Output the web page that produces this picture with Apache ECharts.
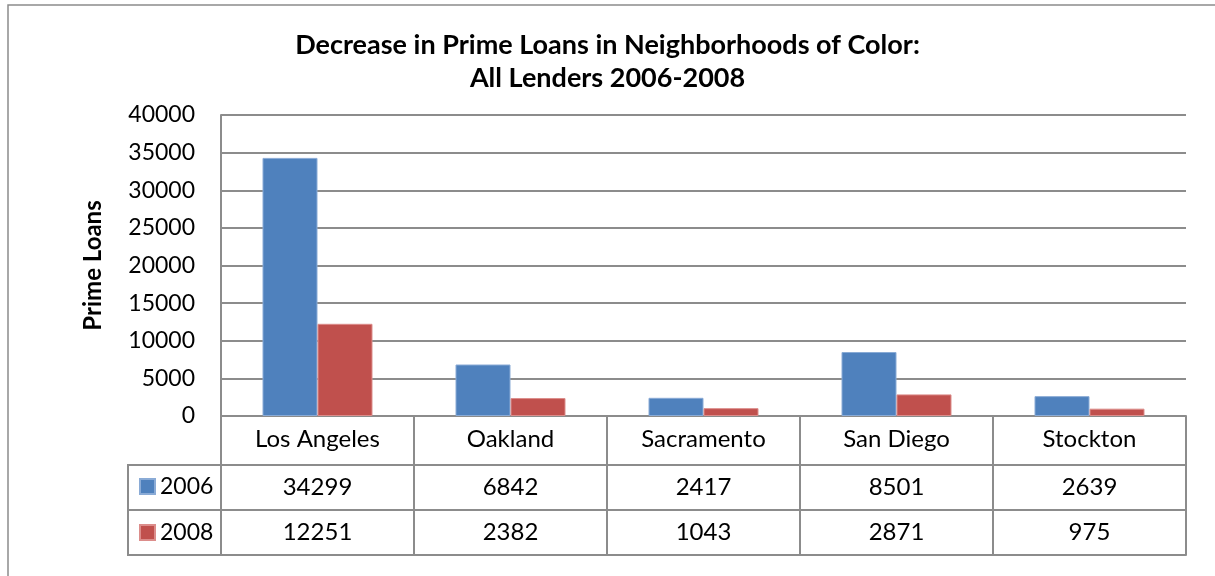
<!DOCTYPE html>
<html>
<head>
<meta charset="utf-8">
<script src="https://cdn.jsdelivr.net/npm/echarts@6/dist/echarts.min.js"></script>
<style>
    html, body { margin: 0; padding: 0; background: #fff; }
    #main { width: 1215px; height: 576px; }
</style>
</head>
<body>
<div id="main"></div>
<script>
var cities = ["Los Angeles", "Oakland", "Sacramento", "San Diego", "Stockton"];
var loans2006 = [34299, 6842, 2417, 8501, 2639];
var loans2008 = [12251, 2382, 1043, 2871, 975];
var yTicks = [0, 40000, 5000];//min, max, interval

var lineGray = "#8c8c8c";
var fontName = "Lato";

var chart = echarts.init(document.getElementById("main"));

// 表格行：每一行用一个带偏移的类目轴画出
function tableAxis (offset, values, tickLen, margin) {
    return {
        type: "category",
        data: cities,
        position: "bottom",
        offset: offset,
        axisLine: { show: true, lineStyle: { color: lineGray, width: 2 } },
        axisTick: { show: tickLen > 0, length: tickLen, lineStyle: { color: lineGray, width: 2 } },
        axisLabel: {
            show: !!values || offset === 0,
            margin: margin,
            color: "#000",
            fontFamily: fontName,
            fontSize: 24,
            formatter: function (v, i) {
                return values ? String(values[i]) : v;
            }
        },
        splitLine: { show: false }
    };
}

var option = {
    animation: false,
    title: {
        text: "Decrease in Prime Loans in Neighborhoods of Color:\nAll Lenders 2006-2008",
        left: "center",
        top: 29,
        padding: [0, 0, 0, 17],
        textStyle: {
            fontFamily: fontName,
            fontWeight: "bold",
            fontSize: 27,
            lineHeight: 33,
            color: "#000"
        }
    },
    legend: {
        orient: "vertical",
        left: 139,
        top: 475,
        padding: 0,
        itemWidth: 15,
        itemHeight: 15,
        itemGap: 23,
        icon: "rect",
        selectedMode: false,
        data: ["2006", "2008"],
        textStyle: { fontFamily: fontName, fontSize: 23, color: "#000" }
    },
    grid: {
        left: 221,
        right: 29,
        top: 115,
        bottom: 160,
        containLabel: false
    },
    xAxis: [
        tableAxis(0, null, 49, 11),
        tableAxis(49, loans2006, 45, 10),
        tableAxis(94, loans2008, 45, 10),
        tableAxis(139, null, 0, 0)
    ],
    yAxis: {
        type: "value",
        min: yTicks[0],
        max: yTicks[1],
        interval: yTicks[2],
        name: "Prime Loans",
        nameLocation: "middle",
        nameGap: 116,
        nameTextStyle: { fontFamily: fontName, fontWeight: "bold", fontSize: 24, color: "#000" },
        axisLine: { show: true, lineStyle: { color: lineGray, width: 2 } },
        axisTick: { show: false },
        axisLabel: {
            margin: 26,
            color: "#000",
            fontFamily: fontName,
            fontSize: 23,
            formatter: function (v) { return String(v); }
        },
        splitLine: { show: true, lineStyle: { color: lineGray, width: 2 } }
    },
    series: [
        {
            name: "2006",
            type: "bar",
            xAxisIndex: 0,
            data: loans2006,
            barWidth: 55,
            barGap: "0%",
            itemStyle: { color: "#4f81bd", borderColor: "#8aabd6", borderWidth: 1 }
        },
        {
            name: "2008",
            type: "bar",
            xAxisIndex: 0,
            data: loans2008,
            barWidth: 55,
            barGap: "0%",
            itemStyle: { color: "#c0504d", borderColor: "#dc8d8b", borderWidth: 1 }
        }
    ],
    graphic: [
        {//图表外框
            type: "rect",
            silent: true,
            shape: { x: 8, y: 5, width: 1400, height: 800 },
            style: { fill: "none", stroke: "#8c8c8c", lineWidth: 1.5 }
        },
        {//图例单元格
            type: "rect",
            silent: true,
            shape: { x: 128, y: 465, width: 93, height: 90 },
            style: { fill: "none", stroke: lineGray, lineWidth: 2 }
        },
        {
            type: "line",
            silent: true,
            shape: { x1: 128, y1: 510, x2: 221, y2: 510 },
            style: { stroke: lineGray, lineWidth: 2 }
        }
    ]
};

chart.setOption(option);
</script>
</body>
</html>
